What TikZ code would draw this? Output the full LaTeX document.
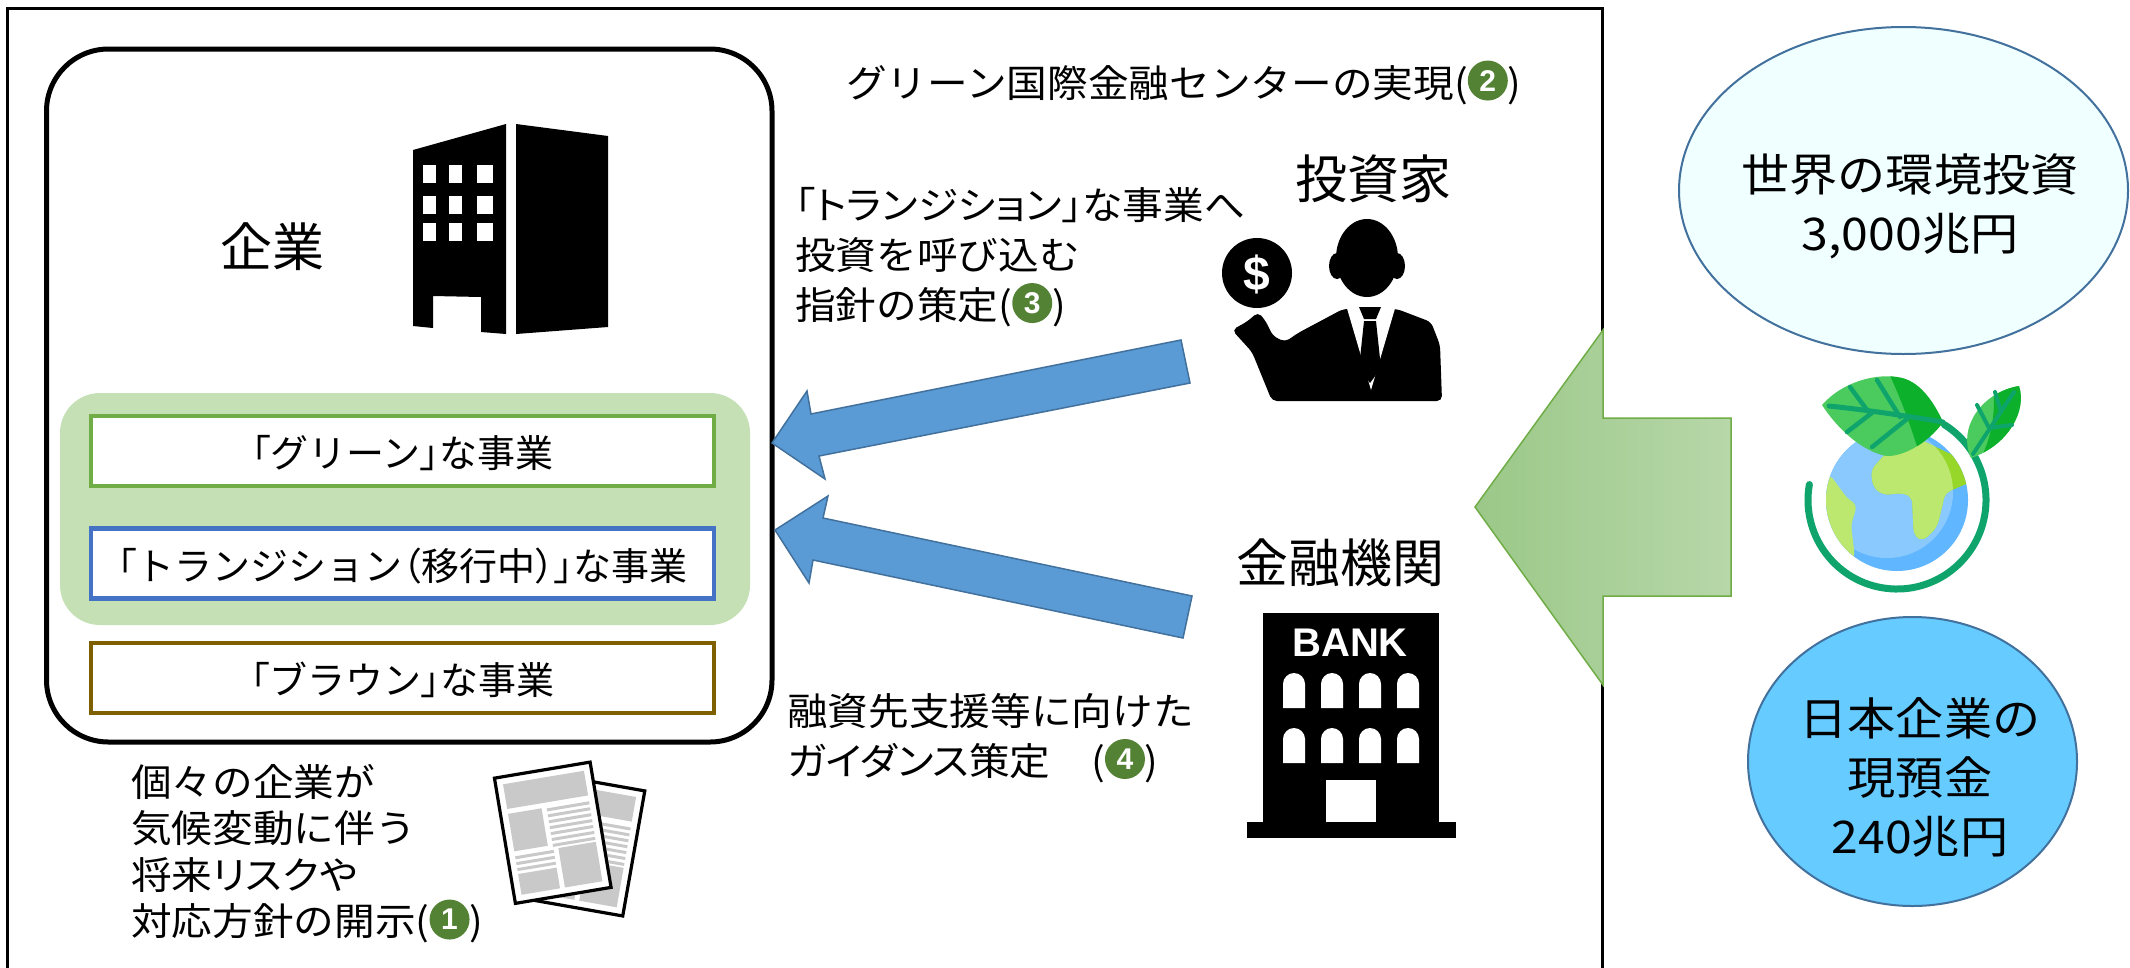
\documentclass[tikz,border=0pt]{standalone}
\usepackage{fontspec}
\setmainfont{Noto Sans CJK JP}
\newfontfamily\jpgothic{Noto Sans CJK JP}
\newfontfamily\jpgothicp[RawFeature=+palt]{Noto Sans CJK JP}
\newfontfamily\jpnote[FakeStretch=1.07]{Noto Sans CJK JP}
\newfontfamily\jpnotekana[FakeStretch=1.07,RawFeature=+palt]{Noto Sans CJK JP}
\newfontfamily\latinsans{Liberation Sans}
\usetikzlibrary{shapes.geometric}

\definecolor{boxgreen}{HTML}{70AD47}
\definecolor{boxblue}{HTML}{4472C4}
\definecolor{boxbrown}{HTML}{7F6000}
\definecolor{bggreen}{HTML}{C5E0B4}
\definecolor{numgreen}{HTML}{548235}
\definecolor{arrowblue}{HTML}{5B9BD5}
\definecolor{arrowedge}{HTML}{41719C}
\definecolor{bubbleA}{HTML}{F0FFFF}
\definecolor{bubbleB}{HTML}{66CCFF}
\definecolor{bigarrowL}{HTML}{9BC888}
\definecolor{bigarrowR}{HTML}{B7D7A9}
\definecolor{papergray}{HTML}{C9C9C9}
\definecolor{globelight}{HTML}{8AC9FE}
\definecolor{globedark}{HTML}{60B6FF}
\definecolor{landlight}{HTML}{BCE86F}
\definecolor{landdark}{HTML}{97D729}
\definecolor{leaflight}{HTML}{4BCB5E}
\definecolor{leafdark}{HTML}{0DB02B}
\definecolor{ringgreen}{HTML}{0EA46B}

% green disc with a white number, sitting on the text baseline
\newcommand\circnum[1]{\raisebox{6pt}{\tikz[baseline=(cn.base)]\node[circle,fill=numgreen,inner sep=0pt,minimum size=40pt,text=white,font=\latinsans\bfseries\fontsize{30}{30}\selectfont] (cn) {#1};}}
% proportional (half-width) brackets in the business boxes
\newcommand\pbr[1]{{\jpgothicp #1}}

% one newspaper sheet, centred on the local origin
\newcommand\newspage{%
  \fill[white] (-48.5,-63.5) rectangle (48.5,63.5);
  \fill[papergray] (-41,-56) rectangle (41,-31);
  \fill[papergray] (-41,-26) rectangle (-7,12);
  \foreach \yy in {-25,-19,...,11} \fill[papergray] (-2,\yy) rectangle (41,\yy+3);
  \foreach \yy in {17,23,29} \fill[papergray] (-41,\yy) rectangle (-2,\yy+3);
  \fill[papergray] (-41,35) rectangle (-2,56);
  \fill[papergray] (3,16) rectangle (41,56);
  \draw[line width=3.2pt] (-48.5,-63.5) rectangle (48.5,63.5);
}

\begin{document}
\begin{tikzpicture}[x=1pt,y=-1pt,
  note/.style={inner sep=0pt,font=\jpnote\fontsize{38}{50}\selectfont},
  heading/.style={inner sep=0pt,font=\jpgothic\fontsize{52}{60}\selectfont},
  bizbox/.style={minimum width=623pt,minimum height=70pt,line width=4.5pt,fill=white,
    inner sep=0pt,text height=33.8pt,text depth=0pt,font=\jpgothic\fontsize{38}{44}\selectfont},
  blockarrow/.style={fill=arrowblue,draw=arrowedge,line width=1.5pt,line join=miter},
  bubble/.style={ellipse,draw=arrowedge,line width=2pt,inner sep=0pt},
  bubbletext/.style={inner sep=0pt,align=center,font=\jpnote\fontsize{45}{59}\selectfont}]

\useasboundingbox (0,0) rectangle (2130,967);
\clip (0,0) rectangle (2130,967);
\fill[white] (0,0) rectangle (2130,967);

% outer frame (open at the bottom edge)
\draw[line width=2.7pt] (7.6,8.7) rectangle (1602.7,1000);

% ---------- company ----------
\node[draw,line width=5pt,rounded corners=62pt,minimum width=725.5pt,minimum height=693pt,inner sep=0pt] (company) at (409.25,395.5) {};
\node[fill=bggreen,rounded corners=40pt,minimum width=690pt,minimum height=232pt,inner sep=0pt] (sustainable) at (405,509) {};
\node[bizbox,draw=boxgreen] (greenbiz) at (402.5,451) {\pbr{「}グリーン\pbr{」}な事業};
\node[bizbox,draw=boxblue] (transbiz) at (402.5,563.5) {\pbr{「}トランジション\pbr{（}移行中\pbr{）」}な事業};
\node[bizbox,draw=boxbrown] (brownbiz) at (402.5,677.75) {\pbr{「}ブラウン\pbr{」}な事業};

\node[heading,anchor=base] (kigyo) at (272,266.5) {企業};

% office building
\fill (413,150) -- (506,124) -- (506,334) -- (481,332) -- (481,297) -- (433,296) -- (433,328) -- (413,326) -- cycle;
\fill (516,124) -- (608,136) -- (608,327) -- (516,334) -- cycle;
\foreach \wx/\ww in {423/13,449/13,477/16}
  \foreach \wy in {165,196,223}
    \fill[white] (\wx,\wy) rectangle ++(\ww,18);

% ---------- notes ----------
\node[note,anchor=base west] (hub) at (846,97) {グリーン国際金融センターの実現(\circnum{2})};

\node[note,anchor=north west,align=left] (guideline) at (795,187)
  {{\jpnotekana 「トランジション」}な事業へ\\投資を呼び込む\\指針の策定(\circnum{3})};

\node[note,anchor=north west,align=left] (guidance) at (787,693)
  {融資先支援等に向けた\\{\jpnotekana ガイダンス}策定　(\circnum{4})};

\node[note,anchor=north west,align=left,font=\jpnote\fontsize{38}{46.5}\selectfont] (disclosure) at (131,764)
  {個々の企業が\\気候変動に伴う\\将来{\jpnotekana リスク}や\\対応方針の開示(\circnum{1})};

% newspapers
\begin{scope}[shift={(586,845)},rotate=-10]
  \newspage
\end{scope}
\begin{scope}[shift={(552.75,832.75)},rotate=9.5]
  \newspage
\end{scope}

% ---------- investor ----------
\node[heading,anchor=base] (investorlabel) at (1373,198) {投資家};
\fill (1257,273) circle[radius=35pt];
\node[text=white,font=\latinsans\bfseries\fontsize{48}{48}\selectfont,inner sep=0pt] (dollar) at (1257,274) {\$};
\fill (1367,258) ellipse[x radius=31pt,y radius=39pt];
\fill (1337,266) ellipse[x radius=8pt,y radius=13pt];
\fill (1397,266) ellipse[x radius=8pt,y radius=13pt];
\fill[rounded corners=5pt] (1232,330) -- (1248,321) -- (1258,312) -- (1265,320) -- (1273,336)
  -- (1285,342) -- (1298,333) -- (1343,309) -- (1397,309) -- (1431,322) -- (1440,345)
  -- (1442,401) -- (1272,401) -- (1252,352) -- cycle;
\fill[white] (1346,305) -- (1396,305) -- (1371,390) -- cycle;
\fill (1359,307) -- (1381,307) -- (1376,319) -- (1364,319) -- cycle;
\fill (1364,321) -- (1376,321) -- (1381,368) -- (1370,383) -- (1359,368) -- cycle;

% ---------- bank ----------
\node[heading,anchor=base] (banklabel) at (1340,582) {金融機関};
\fill (1263,613) rectangle (1439,822);
\fill (1247,822) rectangle (1456,838);
\node[text=white,font=\latinsans\bfseries\fontsize{40}{40}\selectfont,inner sep=0pt] (banksign) at (1350,643) {BANK};
\foreach \wx in {1294,1332,1370,1408}
  \foreach \wy in {673,728}
    \fill[white] (\wx-11,\wy+35) -- (\wx-11,\wy+11) .. controls (\wx-11,\wy+5) and (\wx-6,\wy) .. (\wx,\wy)
      .. controls (\wx+6,\wy) and (\wx+11,\wy+5) .. (\wx+11,\wy+11) -- (\wx+11,\wy+35) -- cycle;
\fill[white] (1326,780) rectangle (1376,822);

% ---------- block arrows towards the company ----------
\filldraw[blockarrow] (1181,340) -- (811,414) -- (807,391) -- (772,443) -- (825,479) -- (819,456) -- (1190,383) -- cycle;
\filldraw[blockarrow] (1192,596) -- (823,518) -- (828,496) -- (775,530) -- (809,583) -- (813,560) -- (1183,638) -- cycle;

% big green arrow
\shadedraw[left color=bigarrowL,right color=bigarrowR,draw=boxgreen,line width=1.5pt]
  (1475,507) -- (1603,330) -- (1603,418) -- (1731,418) -- (1731,596) -- (1603,596) -- (1603,685) -- cycle;

% ---------- money pools ----------
\node[bubble,fill=bubbleA,minimum width=449pt,minimum height=327pt] (world) at (1903.5,190.5) {};
\node[bubbletext,anchor=north] (worldtext) at (1910,153) {世界の環境投資\\3,000兆円};
\node[bubble,fill=bubbleB,minimum width=329pt,minimum height=289pt] (japan) at (1912.5,761.5) {};
\node[bubbletext,anchor=north] (japantext) at (1920,697) {日本企業の\\現預金\\240兆円};

% ---------- earth with leaves ----------
\begin{scope}[shift={(1897,500)},y=1pt]
  \draw[ringgreen,line width=7pt,line cap=round] (170:89pt) arc[start angle=170,end angle=418,radius=89pt];
  \fill[globedark] (0,0) circle[radius=71pt];
  \begin{scope}
    \clip (0,0) circle[radius=71pt];
    \fill[globelight] (-10,8) circle[radius=66pt];
    \fill[landlight,rounded corners=5pt] (-90,30) -- (-66,24) -- (-50,2) -- (-40,-5) -- (-46,-25) -- (-42,-58) -- (-90,-60) -- cycle;
    \begin{scope}
      \clip[rounded corners=6pt] (-24,13) -- (-26,30) -- (-10,48) -- (20,62) -- (62,42) -- (74,18) -- (48,7)
        -- (45,-7) -- (40,-27) -- (26,-41) -- (17,-36) -- (16,-20) -- (15,3) -- (6,7) -- (-14,5) -- cycle;
      \fill[landdark] (-80,-80) rectangle (80,80);
      \fill[landlight] (-10,8) circle[radius=66pt];
    \end{scope}
  \end{scope}
  % large leaf
  \begin{scope}
    \clip (-75,95) .. controls (-55,118) and (-20,128) .. (5,122) .. controls (25,117) and (38,95) .. (46,78)
      .. controls (30,55) and (0,40) .. (-15,45) .. controls (-40,52) and (-62,75) .. (-75,95) -- cycle;
    \fill[leaflight] (-80,30) rectangle (60,135);
    \fill[leafdark] (-12,135) .. controls (5,100) and (15,70) .. (25,38) -- (60,38) -- (60,135) -- cycle;
  \end{scope}
  \draw[ringgreen,line width=5pt,line cap=round] (-68,94) .. controls (-30,90) and (10,84) .. (46,78);
  \draw[ringgreen,line width=4.5pt,line cap=round] (-30,90) -- (-47,113) (3,83) -- (-20,120)
    (-24,88) -- (-50,68) (10,81) -- (-25,53);
  % small leaf
  \begin{scope}
    \clip (74,42) .. controls (60,72) and (85,108) .. (122,114) .. controls (130,90) and (112,55) .. (74,42) -- cycle;
    \fill[leaflight] (55,35) rectangle (135,120);
    \fill[leafdark] (95,120) .. controls (100,90) and (95,60) .. (80,35) -- (135,35) -- (135,120) -- cycle;
  \end{scope}
  \draw[ringgreen,line width=4pt,line cap=round] (76,46) -- (117,108) (92,72) -- (80,95) (104,88) -- (98,108)
    (92,72) -- (115,75);
\end{scope}

\end{tikzpicture}
\end{document}
